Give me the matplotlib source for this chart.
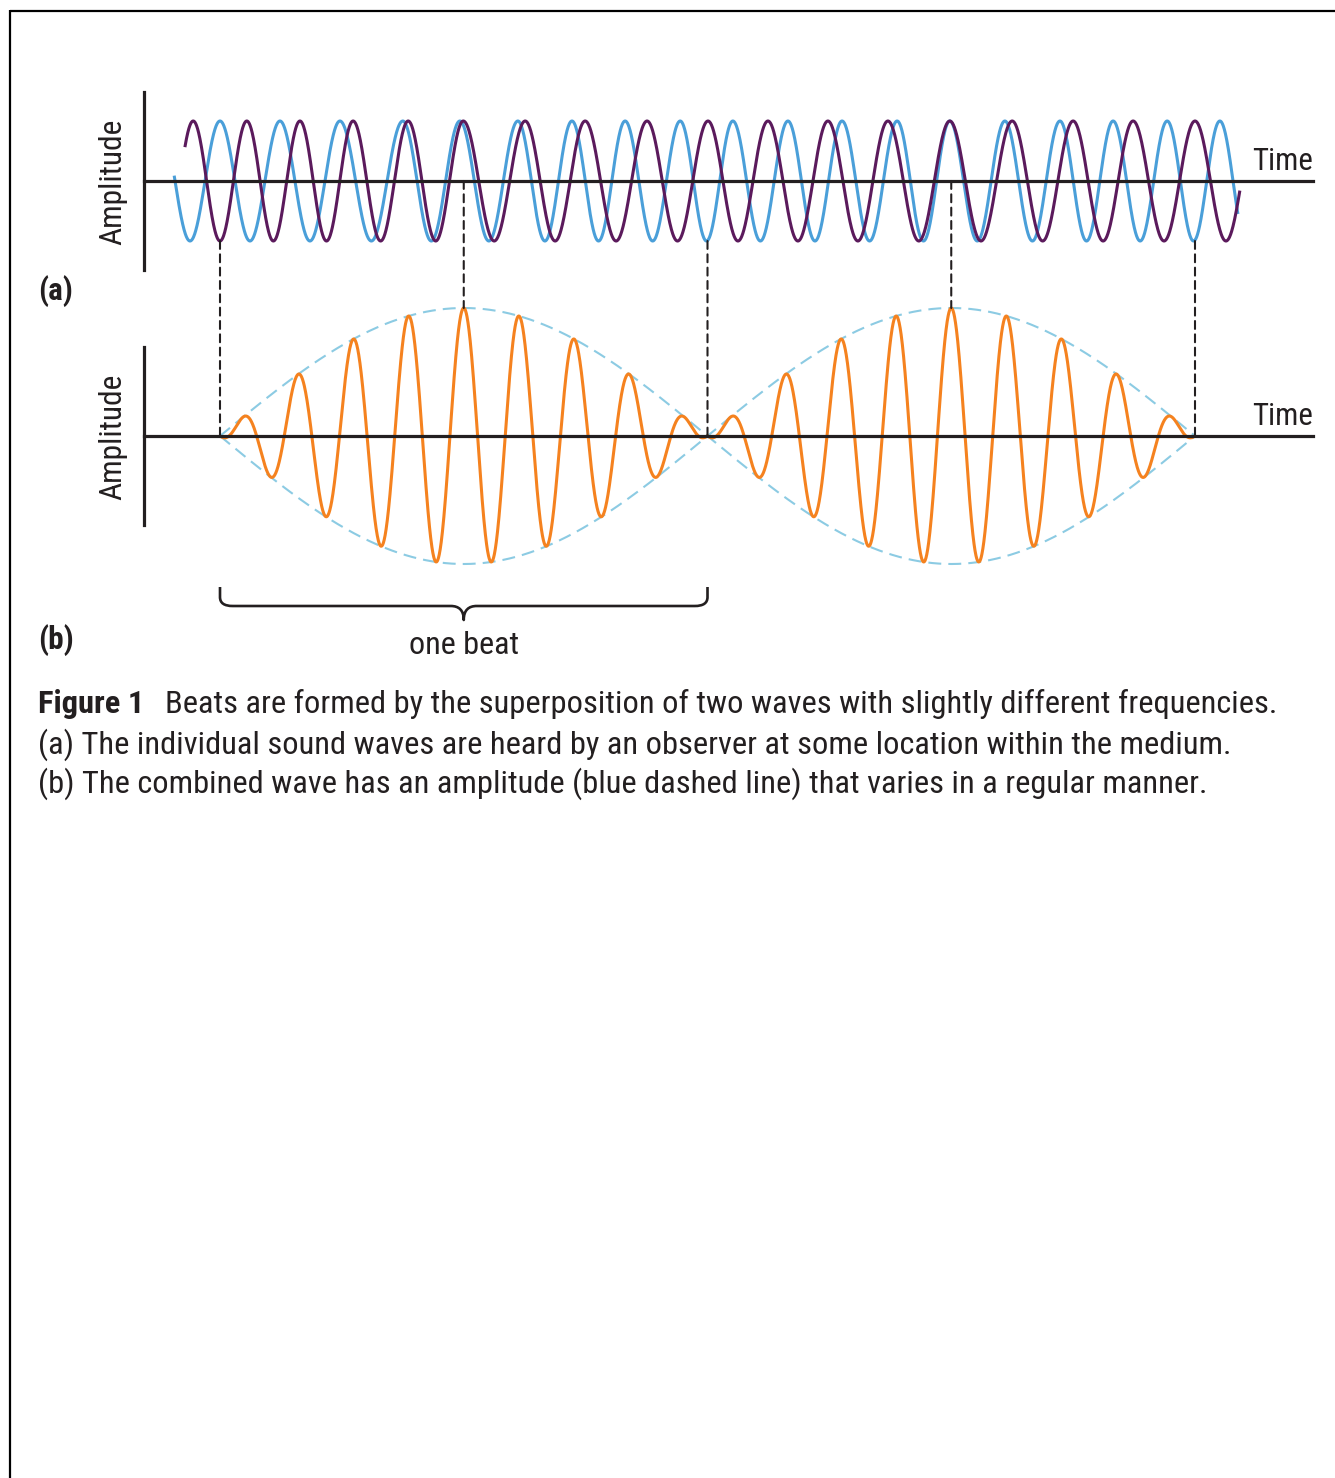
import numpy as np
import matplotlib
matplotlib.use('Agg')
import matplotlib.pyplot as plt
from matplotlib import font_manager as fm
from matplotlib.patches import ConnectionPatch, PathPatch
from matplotlib.path import Path

# ---------------- data (time in beat periods, amplitude in units of one wave) ----------------
purple_peaks = [-0.055, 0.055, 0.164, 0.273, 0.386, 0.499, 0.626, 0.749, 0.876, 1.001,
                1.124, 1.247, 1.370, 1.497, 1.625, 1.750, 1.873, 2.000]
purple_span = [-0.072, 2.092]
blue_peaks = [0.000, 0.123, 0.246, 0.375, 0.492, 0.611, 0.722, 0.831, 0.944, 1.052,
              1.165, 1.276, 1.389, 1.497, 1.610, 1.723, 1.832, 1.943, 2.051]
blue_span = [-0.094, 2.088]
wave_amplitude = 1.0
beat_nodes = [0.0, 1.0, 2.0]
beat_centers = [0.5, 1.5]
carrier_period = 0.1133
combined_amplitude = 2.0
axis_y_label = "Amplitude"
axis_x_label = "Time"
panel_labels = ["(a)", "(b)"]
brace_label = "one beat"
caption_bold = "Figure 1"
caption_lines = ["Beats are formed by the superposition of two waves with slightly different frequencies.",
                 "(a) The individual sound waves are heard by an observer at some location within the medium.",
                 "(b) The combined wave has an amplitude (blue dashed line) that varies in a regular manner."]

# ---------------- style ----------------
W, H = 1335, 1478
INK = "#231f20"
PURPLE = "#5b1a5c"
BLUE = "#4a9fd9"
ORANGE = "#f5821f"
ENV = "#8ccbe3"

names = {f.name for f in fm.fontManager.ttflist}
FAM = ['DejaVu Sans']
STRETCH = 'condensed'
for cand in ('Roboto Condensed', 'Archivo Narrow', 'Pragati Narrow', 'Fira Sans Condensed'):
    if cand in names:
        FAM = [cand, 'DejaVu Sans']
        STRETCH = 'normal'
        break
plt.rcParams['font.family'] = FAM

fig = plt.figure(figsize=(W / 100, H / 100), dpi=100)
fig.patch.set_facecolor('white')

ax_o = fig.add_axes([0, 0, 1, 1])
ax_o.set_xlim(0, W)
ax_o.set_ylim(H, 0)
ax_o.axis('off')


def fig_rect(x0, y0, x1, y1):
    return [x0 / W, 1 - y1 / H, (x1 - x0) / W, (y1 - y0) / H]


def t_of_px(x):
    return (x - 220) / 487.5


ax_a = fig.add_axes(fig_rect(144, 92, 1313, 270))
ax_b = fig.add_axes(fig_rect(144, 347, 1313, 525))
for ax, half in ((ax_a, 89 / 60), (ax_b, 89 / 64)):
    ax.set_xlim(t_of_px(144), t_of_px(1313))
    ax.set_ylim(-half, half)
    ax.patch.set_visible(False)
    for s in ('top', 'right'):
        ax.spines[s].set_visible(False)
    ax.spines['bottom'].set_position(('data', 0))
    for s in ('left', 'bottom'):
        ax.spines[s].set_linewidth(2.3)
        ax.spines[s].set_color(INK)
        ax.spines[s].set_zorder(5)
    ax.set_xticks([])
    ax.set_yticks([])


def phase_from_peaks(t, peaks):
    peaks = np.asarray(peaks)
    ph = np.interp(t, peaks, np.arange(len(peaks), dtype=float))
    lo = t < peaks[0]
    hi = t > peaks[-1]
    ph[lo] = (t[lo] - peaks[0]) / (peaks[1] - peaks[0])
    ph[hi] = len(peaks) - 1 + (t[hi] - peaks[-1]) / (peaks[-1] - peaks[-2])
    return ph


tb = np.linspace(blue_span[0], blue_span[1], 4000)
tp = np.linspace(purple_span[0], purple_span[1], 4000)
ax_a.plot(tb, wave_amplitude * np.cos(2 * np.pi * phase_from_peaks(tb, blue_peaks)),
          color=BLUE, lw=2.2, zorder=2, solid_capstyle='butt')
ax_a.plot(tp, wave_amplitude * np.cos(2 * np.pi * phase_from_peaks(tp, purple_peaks)),
          color=PURPLE, lw=2.2, zorder=3, solid_capstyle='butt')

# panel b: envelope and combined wave
te = np.linspace(beat_nodes[0], beat_nodes[-1], 2000)
env = combined_amplitude * np.abs(np.sin(np.pi * (te - beat_nodes[0]) / (beat_nodes[1] - beat_nodes[0])))
for sgn in (1, -1):
    ax_b.plot(te, sgn * env, color=ENV, lw=1.5, ls=(0, (6.2, 3.4)), zorder=2, clip_on=False)
for k in range(len(beat_nodes) - 1):
    t = np.linspace(beat_nodes[k], beat_nodes[k + 1], 2000)
    e = combined_amplitude * np.sin(np.pi * (t - beat_nodes[k]) / (beat_nodes[k + 1] - beat_nodes[k]))
    y = e * np.cos(2 * np.pi * (t - beat_centers[k]) / carrier_period)
    ax_b.plot(t, y, color=ORANGE, lw=2.2, zorder=3, clip_on=False)

# dashed connectors
for t in beat_nodes:
    con = ConnectionPatch(xyA=(t, -wave_amplitude), coordsA=ax_a.transData,
                          xyB=(t, 0), coordsB=ax_b.transData,
                          color=INK, lw=1.5, ls=(0, (3.8, 2.6)), zorder=1)
    fig.add_artist(con)
for t in beat_centers:
    con = ConnectionPatch(xyA=(t, 0), coordsA=ax_a.transData,
                          xyB=(t, combined_amplitude), coordsB=ax_b.transData,
                          color=INK, lw=1.5, ls=(0, (3.8, 2.6)), zorder=1)
    fig.add_artist(con)

# border
ax_o.plot([9.5, W], [10.5, 10.5], color='black', lw=1.6, solid_capstyle='butt')
ax_o.plot([9.5, 9.5], [10, H], color='black', lw=1.6, solid_capstyle='butt')


def px_x(t):
    return ax_b.transData.transform((t, 0))[0]


# brace under one beat
x0, xm, x1 = px_x(beat_nodes[0]), px_x(beat_centers[0]), px_x(beat_nodes[1])
yt, yh, ytip = 587, 606, 620
r = 13
verts = [(x0, yt), (x0, yh - 9),
         (x0, yh - 3), (x0 + 4, yh), (x0 + r, yh),
         (xm - r, yh),
         (xm - 5, yh), (xm, yh + 4), (xm, ytip),
         (xm, yh + 4), (xm + 5, yh), (xm + r, yh),
         (x1 - r, yh),
         (x1 - 4, yh), (x1, yh - 3), (x1, yh - 9),
         (x1, yt)]
codes = [Path.MOVETO, Path.LINETO,
         Path.CURVE4, Path.CURVE4, Path.CURVE4,
         Path.LINETO,
         Path.CURVE4, Path.CURVE4, Path.CURVE4,
         Path.CURVE4, Path.CURVE4, Path.CURVE4,
         Path.LINETO,
         Path.CURVE4, Path.CURVE4, Path.CURVE4,
         Path.LINETO]
ax_o.add_patch(PathPatch(Path(verts, codes), facecolor='none', edgecolor=INK, lw=1.9,
                         capstyle='butt', joinstyle='round'))

renderer = fig.canvas.get_renderer()


def fit(txt, target, dim='w'):
    bb = txt.get_window_extent(renderer)
    cur = bb.width if dim == 'w' else bb.height
    txt.set_fontsize(txt.get_fontsize() * target / cur)
    return txt


kw = dict(color=INK, fontstretch=STRETCH)
amp_a = ax_o.text(113, 182, axis_y_label, rotation=90, ha='center', va='center', fontsize=20, **kw)
fit(amp_a, 126, 'h')
amp_b = ax_o.text(113, 437, axis_y_label, rotation=90, ha='center', va='center',
                  fontsize=amp_a.get_fontsize(), **kw)
time_a = ax_o.text(1252, 170, axis_x_label, ha='left', va='baseline', fontsize=20, **kw)
fit(time_a, 61)
time_b = ax_o.text(1252, 425, axis_x_label, ha='left', va='baseline', fontsize=time_a.get_fontsize(), **kw)

pa = ax_o.text(38, 291, panel_labels[0], ha='left', va='center', fontsize=20, fontweight='bold', **kw)
fit(pa, 35)
pb = ax_o.text(38, 640, panel_labels[1], ha='left', va='center', fontsize=pa.get_fontsize(),
               fontweight='bold', **kw)
ob = ax_o.text(xm, 645, brace_label, ha='center', va='center', fontsize=20, **kw)
fit(ob, 110)

# caption: one common size, fitted to the three line widths
l1 = ax_o.text(165, 713, caption_lines[0], ha='left', va='baseline', fontsize=20, **kw)
l2 = ax_o.text(38, 754, caption_lines[1], ha='left', va='baseline', fontsize=20, **kw)
l3 = ax_o.text(38, 793, caption_lines[2], ha='left', va='baseline', fontsize=20, **kw)
sizes = []
for tx, target in ((l1, 1105), (l2, 1193), (l3, 1166)):
    fit(tx, target)
    sizes.append(tx.get_fontsize())
cs = float(np.mean(sizes))
for tx in (l1, l2, l3):
    tx.set_fontsize(cs)
fb = ax_o.text(38, 713, caption_bold, ha='left', va='baseline', fontsize=cs, fontweight='bold', **kw)

fig.savefig('out.png', dpi=100)
